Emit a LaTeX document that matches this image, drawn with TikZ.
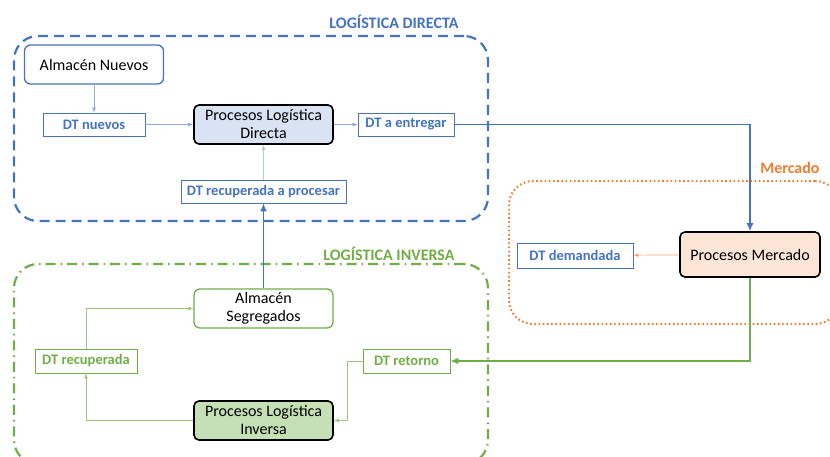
\documentclass[tikz,border=0pt]{standalone}
\usepackage{fontspec}
\setmainfont{Carlito}
\usepackage{xcolor}
\usepackage{tikz}
\usetikzlibrary{positioning,arrows.meta}

\begin{document}
\begin{tikzpicture}[
  x=1pt, y=-1pt,
  font=\fontsize{16}{18}\selectfont,
  >={Latex[length=5pt,width=4pt]},
  procbox/.style={
    draw=black,
    fill=#1,
    line width=1.6pt,
    rounded corners=5pt,
    align=center,
    minimum width=139pt,
    minimum height=39pt,
    inner sep=1pt
  },
  storebox/.style={
    draw=#1,
    fill=white,
    line width=1.3pt,
    rounded corners=6pt,
    align=center,
    minimum width=139pt,
    minimum height=39pt,
    inner sep=1pt
  },
  dtbox/.style={
    draw=#1,
    fill=white,
    line width=0.8pt,
    font=\fontsize{14.5}{16}\selectfont\bfseries,
    minimum height=23pt,
    inner sep=2pt
  },
  group/.style={
    draw=#1,
    line width=2.2pt,
    rounded corners=24pt
  },
  grouptitle/.style={font=\fontsize{16}{18}\selectfont\bfseries,text=#1},
  thinflow/.style={->,line width=0.7pt,draw=#1,>={Latex[length=5pt,width=4pt]}},
  strongflow/.style={->,line width=1.6pt,draw=#1,>={Latex[length=8pt,width=7pt]}}
]
\definecolor{blue}{HTML}{4472C4}
\definecolor{green}{HTML}{70AD47}
\definecolor{orange}{HTML}{ED7D31}
\definecolor{lightblue}{HTML}{DAE3F3}
\definecolor{lightgreen}{HTML}{C5E0B4}
\definecolor{peach}{HTML}{FBE5D6}

\useasboundingbox (0,0) rectangle (830,456);

% grupos
\node[group=blue, dash pattern=on 10pt off 6pt, minimum width=474pt, minimum height=185pt] (directa) at (251,128.5) {};
\node[grouptitle=blue, anchor=east] (directatitle) at (462,22) {LOGÍSTICA DIRECTA};

\node[group=green, dash pattern=on 10pt off 5pt on 1.5pt off 5pt, minimum width=474pt, minimum height=200pt] (inversa) at (251,364) {};
\node[grouptitle=green, anchor=east] (inversatitle) at (458,254) {LOGÍSTICA INVERSA};

\node[group=orange, line width=2pt, dash pattern=on 1.6pt off 2.6pt, minimum width=330pt, minimum height=143pt] (mercado) at (674,252.5) {};
\node[grouptitle=orange, anchor=east] (mercadotitle) at (823,168) {Mercado};

% logistica directa
\node[storebox=blue] (almnuevos) at (94,64.5) {Almacén Nuevos};
\node[dtbox=blue, text=blue, minimum width=102pt] (dtnuevos) at (94,124.5) {DT nuevos};
\node[procbox=lightblue] (procdirecta) at (263.5,124.5) {Procesos Logística\\Directa};
\node[dtbox=blue, text=blue, minimum width=96pt] (dtentregar) at (406,124.5) {DT a entregar};
\node[dtbox=blue, text=blue, minimum width=165pt] (dtrecproc) at (263.5,191.5) {DT recuperada a procesar};

% mercado
\node[procbox=peach, minimum width=140pt, minimum height=45pt] (procmercado) at (750,254.5) {Procesos Mercado};
\node[dtbox=blue, text=blue, minimum width=116pt, minimum height=25pt] (dtdemandada) at (575,255.5) {DT demandada};

% logistica inversa
\node[storebox=green] (almsegregados) at (263.5,308.5) {Almacén\\Segregados};
\node[dtbox=green, text=green, minimum width=102pt, minimum height=24pt] (dtrecuperada) at (86,361) {DT recuperada};
\node[dtbox=green, text=green, minimum width=87pt, minimum height=24pt] (dtretorno) at (406.5,361) {DT retorno};
\node[procbox=lightgreen] (procinversa) at (263.5,420.5) {Procesos Logística\\Inversa};

% conexiones
\draw[thinflow=blue!60] (almnuevos) -- (dtnuevos);
\draw[thinflow=blue!60] (dtnuevos) -- (procdirecta);
\draw[thinflow=blue!60] (procdirecta) -- (dtentregar);
\draw[thinflow=blue!40] (dtrecproc) -- (procdirecta);
\draw[strongflow=blue] (dtentregar.east) -| (procmercado.north);
\draw[strongflow=blue] (almsegregados) -- (dtrecproc);

\draw[thinflow=orange!70] (procmercado) -- (dtdemandada);
\draw[strongflow=green] (procmercado.south) |- (dtretorno.east);

\draw[thinflow=green!70] (dtretorno.west) -- ++(-15,0) |- (procinversa.east);
\draw[thinflow=green!70] (procinversa.west) -| (dtrecuperada.south);
\draw[thinflow=green!70] (dtrecuperada.north) |- (almsegregados.west);
\end{tikzpicture}
\end{document}
